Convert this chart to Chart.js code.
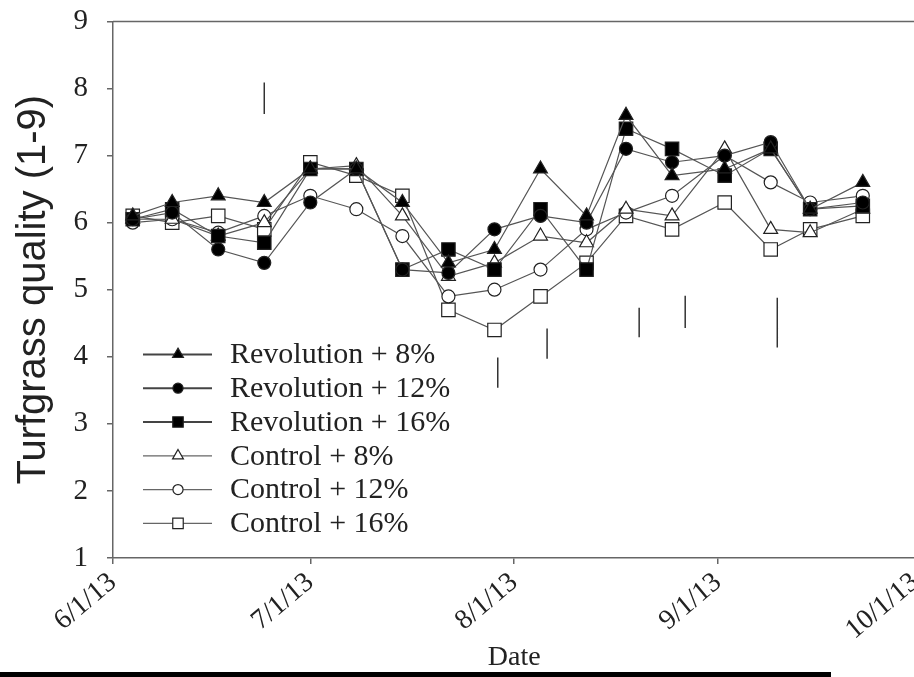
<!DOCTYPE html>
<html>
<head>
<meta charset="utf-8">
<script src="https://cdn.jsdelivr.net/npm/chart.js@4.4.1/dist/chart.umd.min.js"></script>
<style>
  html, body { margin: 0; padding: 0; background: #fff; overflow: hidden; }
  #wrap { position: relative; width: 939px; height: 677px; overflow: hidden; }
  #chart { position: absolute; left: 0; top: -15px; }
  #bar { position: absolute; left: 0; top: 672px; width: 831px; height: 5px; background: #000; }
</style>
</head>
<body>
<div id="wrap">
  <canvas id="chart" width="939" height="692"></canvas>
  <div id="bar"></div>
</div>
<script>
// sampling days, counted from 6/1/13
const sampleDays = [3, 9, 16, 23, 30, 37, 44, 51, 58, 65, 72, 78, 85, 93, 100, 106, 114];

const rev8 = [6.1, 6.3, 6.4, 6.3, 6.8, 6.8, 6.3, 5.4, 5.6, 6.8, 6.1, 7.6, 6.7, 6.8, 7.1, 6.2, 6.6];
const rev12 = [6.05, 6.15, 5.6, 5.4, 6.3, 6.8, 5.3, 5.25, 5.9, 6.1, 6.0, 7.1, 6.9, 7.0, 7.2, 6.2, 6.3];
const rev16 = [6.05, 6.2, 5.8, 5.7, 6.8, 6.8, 5.3, 5.6, 5.3, 6.2, 5.3, 7.4, 7.1, 6.7, 7.1, 6.2, 6.25];
const ctl8 = [6.05, 6.05, 5.8, 6.0, 6.8, 6.85, 6.1, 5.2, 5.4, 5.8, 5.7, 6.2, 6.1, 7.1, 5.9, 5.85, 6.2];
const ctl12 = [6.0, 6.05, 5.85, 6.1, 6.4, 6.2, 5.8, 4.9, 5.0, 5.3, 5.9, 6.15, 6.4, 7.0, 6.6, 6.3, 6.4];
const ctl16 = [6.1, 6.0, 6.1, 5.9, 6.9, 6.7, 6.4, 4.7, 4.4, 4.9, 5.4, 6.1, 5.9, 6.3, 5.6, 5.9, 6.1];

const seriesLabels = ["Revolution + 8%", "Revolution + 12%", "Revolution + 16%",
  "Control + 8%", "Control + 12%", "Control + 16%"];

// LSD bars: day, top, bottom
const lsdDays = [23, 58.5, 66, 80, 87, 101];
const lsdTop = [8.09, 3.99, 4.42, 4.73, 4.91, 4.88];
const lsdBottom = [7.62, 3.54, 3.97, 4.29, 4.43, 4.14];

const tickDays = [0, 30, 61, 92, 122];
const tickLabels = ["6/1/13", "7/1/13", "8/1/13", "9/1/13", "10/1/13"];

const styles = [
  { pointStyle: "triangle", fill: "#000", radius: 8 },
  { pointStyle: "circle", fill: "#000", radius: 6.5 },
  { pointStyle: "rect", fill: "#000", radius: 9.5 },
  { pointStyle: "triangle", fill: "#fff", radius: 8 },
  { pointStyle: "circle", fill: "#fff", radius: 6.5 },
  { pointStyle: "rect", fill: "#fff", radius: 9.5 },
];

const allSeries = [rev8, rev12, rev16, ctl8, ctl12, ctl16];

function toPoints(values) {
  return values.map((v, i) => ({ x: sampleDays[i], y: v }));
}

function lsdPoints() {
  const pts = [];
  lsdDays.forEach((d, i) => {
    pts.push({ x: d, y: lsdTop[i] });
    pts.push({ x: d, y: lsdBottom[i] });
    pts.push({ x: d, y: null });
  });
  return pts;
}

const datasets = allSeries.map((values, i) => ({
  label: seriesLabels[i],
  data: toPoints(values),
  borderColor: "#555",
  borderWidth: 1.2,
  pointStyle: styles[i].pointStyle,
  pointRadius: styles[i].radius,
  pointBackgroundColor: styles[i].fill,
  pointBorderColor: "#222",
  pointBorderWidth: 1.2,
  tension: 0,
}));

datasets.push({
  label: "LSD",
  data: lsdPoints(),
  borderColor: "#333",
  borderWidth: 1.5,
  pointRadius: 0,
  spanGaps: false,
});

// legend drawn inside the plot, plus the top frame line
const plotExtras = {
  id: "plotExtras",
  afterDraw(chart) {
    const ctx = chart.ctx;
    const area = chart.chartArea;
    ctx.save();
    ctx.strokeStyle = "#666";
    ctx.lineWidth = 1.5;
    ctx.beginPath();
    ctx.moveTo(area.left, area.top);
    ctx.lineTo(area.right, area.top);
    ctx.stroke();

    ctx.font = "30px 'Liberation Serif'";
    ctx.textBaseline = "middle";
    seriesLabels.forEach((label, i) => {
      const y = area.top + 333 + i * 33.8;
      ctx.strokeStyle = i < 3 ? "#444" : "#666";
      ctx.lineWidth = i < 3 ? 2 : 1.3;
      ctx.beginPath();
      ctx.moveTo(143, y);
      ctx.lineTo(212, y);
      ctx.stroke();
      ctx.fillStyle = styles[i].fill;
      ctx.strokeStyle = "#222";
      ctx.lineWidth = 1.2;
      Chart.helpers.drawPoint(ctx, {
        pointStyle: styles[i].pointStyle,
        radius: styles[i].radius * 0.78,
        rotation: 0,
        borderWidth: 1.2,
      }, 178, y);
      ctx.fillStyle = "#222";
      ctx.fillText(label, 230, y + 1);
    });
    ctx.restore();
  },
};

new Chart(document.getElementById("chart"), {
  type: "line",
  data: { datasets },
  options: {
    responsive: false,
    animation: false,
    layout: { padding: { top: 5, right: 17, left: 0, bottom: 0 } },
    plugins: { legend: { display: false }, tooltip: { enabled: false } },
    scales: {
      x: {
        type: "linear",
        min: 0,
        max: 122,
        afterBuildTicks: (scale) => {
          scale.ticks = tickDays.map((v) => ({ value: v }));
        },
        afterFit: (scale) => { scale.height = 119; },
        ticks: {
          autoSkip: false,
          maxRotation: 40,
          minRotation: 40,
          padding: 2,
          color: "#222",
          font: { family: "'Liberation Serif'", size: 28 },
          callback: (value) => {
            const idx = tickDays.indexOf(value);
            return idx >= 0 ? tickLabels[idx] : "";
          },
        },
        grid: { drawOnChartArea: false, tickLength: 6, color: "#666", lineWidth: 1.5 },
        border: { color: "#666", width: 1.5 },
        title: {
          display: true,
          text: "Date",
          color: "#222",
          font: { family: "'Liberation Serif'", size: 28 },
          padding: { top: 0, bottom: 3 },
        },
      },
      y: {
        min: 1,
        max: 9,
        afterFit: (scale) => { scale.width = 113; },
        ticks: {
          stepSize: 1,
          padding: 19,
          color: "#222",
          font: { family: "'Liberation Serif'", size: 29 },
        },
        grid: { drawOnChartArea: false, tickLength: 6, color: "#666", lineWidth: 1.5 },
        border: { color: "#666", width: 1.5 },
        title: {
          display: true,
          text: "Turfgrass quality (1-9)",
          color: "#222",
          font: { family: "'Liberation Sans'", size: 40 },
          padding: { top: 10, bottom: 0 },
        },
      },
    },
  },
  plugins: [plotExtras],
});
</script>
</body>
</html>
